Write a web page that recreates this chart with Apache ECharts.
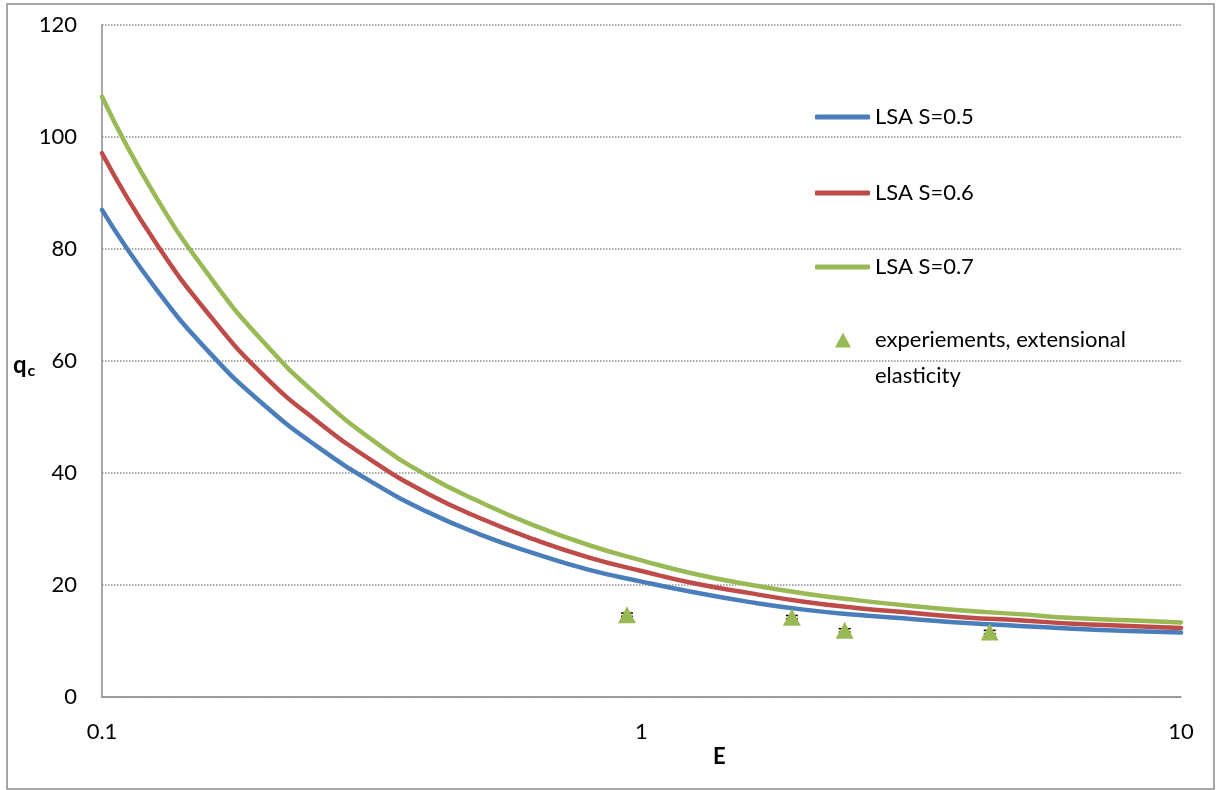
<!DOCTYPE html>
<html>
<head>
<meta charset="utf-8">
<script src="https://cdn.jsdelivr.net/npm/echarts@6/dist/echarts.min.js"></script>
<style>
html,body{margin:0;padding:0;background:#fff;}
#chart{width:1217px;height:790px;}
</style>
</head>
<body>
<div id="chart"></div>
<script>
// E values at which the LSA curves were read (roughly even on the log axis)
const eValues = [0.1, 0.125, 0.16, 0.2, 0.25, 0.32, 0.4, 0.5, 0.63, 0.8, 1, 1.25, 1.6, 2, 2.5, 3.2, 4, 5, 6.3, 8, 10];
const lsaS05 = [87.0, 73.3, 61.0, 52.1, 44.8, 38.1, 33.1, 29.1, 25.7, 22.7, 20.6, 18.7, 16.9, 15.6, 14.7, 13.9, 13.2, 12.7, 12.2, 11.8, 11.5];
const lsaS06 = [97.1, 81.5, 67.6, 57.3, 49.3, 41.9, 36.4, 32.0, 28.2, 24.9, 22.5, 20.3, 18.5, 17.0, 15.9, 15.0, 14.2, 13.7, 13.1, 12.7, 12.3];
const lsaS07 = [107.2, 89.8, 74.5, 63.2, 54.0, 45.6, 39.6, 34.9, 30.7, 27.1, 24.4, 22.0, 20.0, 18.5, 17.3, 16.2, 15.4, 14.8, 14.1, 13.7, 13.3];
// experiments
const expE = [0.94, 1.90, 2.38, 4.42];
const expQ = [14.7, 14.25, 11.9, 11.6];
const expErr = [0.3, 0.3, 0.3, 0.3];
// ticks
const yTicks = [0, 20, 40, 60, 80, 100, 120];
const xTickLabels = ['0.1', '1', '10'];

const seriesNames = ['LSA S=0.5', 'LSA S=0.6', 'LSA S=0.7', 'experiements, extensional elasticity'];
const colors = ['#4A7EBB', '#BE4B48', '#98B954'];

const FONT = 'Lato';

function pairs(xs, ys) { return xs.map((x, i) => [x, ys[i]]); }

const chart = echarts.init(document.getElementById('chart'), null, {renderer: 'canvas'});

function lineSeries(name, vals, color) {
  return {
    name: name, type: 'line', smooth: 0.5, symbol: 'none', showSymbol: false,
    data: pairs(eValues, vals),
    lineStyle: {color: color, width: 4.5, cap: 'round', join: 'round'},
    itemStyle: {color: color},
    z: 2
  };
}

function lineLegend(name, top) {
  return {
    data: [{name: name, icon: 'roundRect'}], left: 815, top: top, orient: 'vertical', padding: 0,
    itemWidth: 55, itemHeight: 5, selectedMode: false,
    textStyle: {fontFamily: FONT, fontSize: 22, color: '#000', lineHeight: 30}
  };
}

const option = {
  animation: false,
  backgroundColor: '#fff',
  grid: {left: 102, right: 36, top: 25, bottom: 93, containLabel: false},
  xAxis: {
    type: 'log', logBase: 10, min: 0.1, max: 10,
    axisLine: {show: true, onZero: false, lineStyle: {color: '#8a8a8a', width: 1.5}},
    axisTick: {show: false},
    splitLine: {show: false},
    minorTick: {show: false},
    axisLabel: {
      fontFamily: FONT, fontSize: 22, color: '#000', margin: 24,
      formatter: function (v) {
        const idx = Math.round(Math.log10(v)) + 1;
        return xTickLabels[idx] !== undefined ? xTickLabels[idx] : String(v);
      }
    }
  },
  yAxis: {
    type: 'value', min: yTicks[0], max: yTicks[yTicks.length - 1], interval: 20,
    axisLine: {show: true, lineStyle: {color: '#8a8a8a', width: 1.5}},
    axisTick: {show: false},
    splitLine: {show: true, lineStyle: {color: '#8c8c8c', width: 1.5, type: [1.5, 1.5]}},
    axisLabel: {fontFamily: FONT, fontSize: 22, color: '#000', margin: 25}
  },
  legend: [
    lineLegend(seriesNames[0], 102),
    lineLegend(seriesNames[1], 178),
    lineLegend(seriesNames[2], 252),
    {
      data: [{name: seriesNames[3], icon: 'triangle'}], left: 835, top: 286, orient: 'vertical', padding: 0,
      itemWidth: 16, itemHeight: 15, selectedMode: false,
      formatter: function () { return ' \nexperiements, extensional\nelasticity'; },
      textStyle: {fontFamily: FONT, fontSize: 22, color: '#000', lineHeight: 36, padding: [0, 0, 0, 19]}
    }
  ],
  series: [
    lineSeries(seriesNames[0], lsaS05, colors[0]),
    lineSeries(seriesNames[1], lsaS06, colors[1]),
    lineSeries(seriesNames[2], lsaS07, colors[2]),
    {
      name: 'errbars', type: 'custom', z: 3,
      data: expE.map((e, i) => [e, expQ[i] - expErr[i], expQ[i] + expErr[i]]),
      renderItem: function (params, api) {
        const lo = api.coord([api.value(0), api.value(1)]);
        const hi = api.coord([api.value(0), api.value(2)]);
        const hw = 6;
        return {
          type: 'group',
          children: [
            {type: 'line', shape: {x1: lo[0], y1: lo[1], x2: hi[0], y2: hi[1]}, style: {stroke: '#000', lineWidth: 1.5}},
            {type: 'line', shape: {x1: lo[0] - hw, y1: lo[1], x2: lo[0] + hw, y2: lo[1]}, style: {stroke: '#000', lineWidth: 1.5}},
            {type: 'line', shape: {x1: hi[0] - hw, y1: hi[1], x2: hi[0] + hw, y2: hi[1]}, style: {stroke: '#000', lineWidth: 1.5}}
          ]
        };
      }
    },
    {
      name: seriesNames[3], type: 'scatter', symbol: 'triangle', symbolSize: [18, 17],
      data: pairs(expE, expQ),
      itemStyle: {color: '#98B954', opacity: 1},
      z: 4
    }
  ],
  graphic: [
    {type: 'rect', shape: {x: 7, y: 4, width: 1207, height: 785}, style: {fill: 'none', stroke: '#8a8a8a', lineWidth: 1.5}, silent: true, z: -1},
    {type: 'text', left: 13, top: 353, style: {
      text: '{q|q}{c|c}', rich: {
        q: {fontFamily: FONT, fontSize: 24, fontWeight: 'bold', fill: '#000'},
        c: {fontFamily: FONT, fontSize: 16, fontWeight: 'bold', fill: '#000', padding: [12, 0, 0, 1]}
      }
    }},
    {type: 'text', left: 713, top: 746, style: {text: 'E', fontFamily: FONT, fontSize: 22, fontWeight: 'bold', fill: '#000'}}
  ]
};
chart.setOption(option);
</script>
</body>
</html>
